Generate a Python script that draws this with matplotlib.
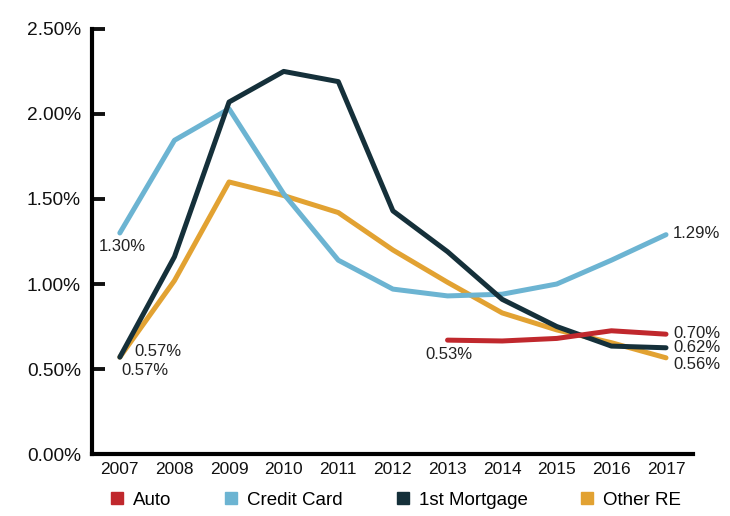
import matplotlib
matplotlib.use('Agg')
import matplotlib.pyplot as plt
from matplotlib.lines import Line2D
from matplotlib.ticker import FuncFormatter

plt.rcParams['font.family'] = ['Liberation Sans', 'DejaVu Sans']

years = [2007, 2008, 2009, 2010, 2011, 2012, 2013, 2014, 2015, 2016, 2017]
auto_years = [2013, 2014, 2015, 2016, 2017]
auto = [0.67, 0.665, 0.68, 0.725, 0.705]
credit_card = [1.30, 1.845, 2.03, 1.53, 1.14, 0.97, 0.93, 0.94, 1.00, 1.14, 1.29]
mortgage = [0.57, 1.16, 2.07, 2.25, 2.19, 1.43, 1.19, 0.91, 0.75, 0.635, 0.625]
other_re = [0.57, 1.02, 1.60, 1.52, 1.42, 1.20, 1.01, 0.83, 0.73, 0.655, 0.566]

c_auto = '#c0282d'
c_cc = '#6cb4d2'
c_mort = '#15303a'
c_ore = '#e2a232'

fig = plt.figure(figsize=(7.3, 5.16), dpi=100)
ax = fig.add_axes([0.126, 0.12, 0.823, 0.824])

lw = 3.6
ax.plot(years, other_re, color=c_ore, lw=lw, solid_capstyle='round')
ax.plot(years, credit_card, color=c_cc, lw=lw, solid_capstyle='round')
ax.plot(years, mortgage, color=c_mort, lw=lw, solid_capstyle='round')
ax.plot(auto_years, auto, color=c_auto, lw=lw, solid_capstyle='round')

ax.set_xlim(2006.49, 2017.49)
ax.set_ylim(0, 2.5)
ax.set_yticks([0, 0.5, 1.0, 1.5, 2.0, 2.5])
ax.yaxis.set_major_formatter(FuncFormatter(lambda v, p: '%.2f%%' % v))
ax.set_xticks(years)
ax.tick_params(axis='y', direction='in', length=9, width=2.8, pad=8,
               labelsize=13.8, colors='#111111')
ax.tick_params(axis='x', length=0, pad=6, labelsize=12.5, labelcolor='#111111')
for s in ['top', 'right']:
    ax.spines[s].set_visible(False)
for s in ['left', 'bottom']:
    ax.spines[s].set_linewidth(3.0)
    ax.spines[s].set_color('#000000')

def lab(x, y, txt, dx, dy):
    ax.annotate(txt, (x, y), xytext=(dx, dy), textcoords='offset points',
                ha='left', va='center', fontsize=12, color='#222222')

lab(2007, credit_card[0], '1.30%', -15, -9.4)
lab(2007, mortgage[0], '0.57%', 10.8, 4.3)
lab(2007, other_re[0], '0.57%', 1.4, -9.4)
lab(2013, auto[0], '0.53%', -15.8, -10)
lab(2017, credit_card[-1], '1.29%', 5, 0.5)
lab(2017, auto[-1], '0.70%', 5, 0.7)
lab(2017, mortgage[-1], '0.62%', 5, 0)
lab(2017, other_re[-1], '0.56%', 5, -5)

handles = [Line2D([], [], ls='none', marker='s', ms=8.6, color=c)
           for c in [c_auto, c_cc, c_mort, c_ore]]
fig.legend(handles, ['Auto', 'Credit Card', '1st Mortgage', 'Other RE'],
           loc='center left', bbox_to_anchor=(0.151, 0.031), ncol=4,
           frameon=False, borderpad=0, borderaxespad=0, handletextpad=0.5,
           columnspacing=2.85, handlelength=0.7, fontsize=13.5)

fig.savefig('out.png', dpi=100)
